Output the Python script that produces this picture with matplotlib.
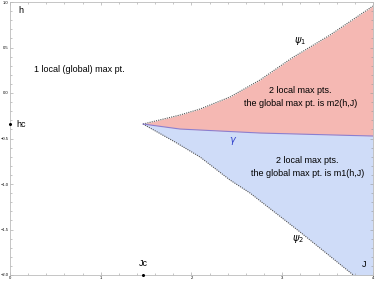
import matplotlib
matplotlib.use("Agg")
import matplotlib.pyplot as plt
from matplotlib.ticker import MultipleLocator
import numpy as np

plt.rcParams['font.family'] = ['Liberation Sans', 'DejaVu Sans']

# critical point
Jc, hc = 1.466, -0.341

# boundary curves (J, h)
psi1_J = [1.466, 1.873, 2.094, 2.424, 2.755, 3.107, 3.526, 4.0]
psi1_h = [-0.341, -0.242, -0.176, -0.044, 0.143, 0.385, 0.637, 0.956]

psi2_J = [1.466, 1.818, 2.094, 2.424, 2.645, 3.196, 3.769, 4.0]
psi2_h = [-0.341, -0.538, -0.703, -0.956, -1.099, -1.527, -1.989, -2.16]

gamma_J = [1.466, 1.873, 2.755, 4.0]
gamma_h = [-0.341, -0.396, -0.440, -0.473]

pink = '#f5b8b3'
blue = '#cfdcf8'

fig = plt.figure(figsize=(3.75, 2.82), dpi=100)
ax = fig.add_axes([10/375, 1 - 275/282, 363/375, 273/282])

J = np.linspace(Jc, 4.0, 200)
g = np.interp(J, gamma_J, gamma_h)
p1 = np.interp(J, psi1_J, psi1_h)
p2 = np.interp(J, psi2_J, psi2_h)
ax.fill_between(J, g, p1, color=pink, lw=0)
ax.fill_between(J, p2, g, color=blue, lw=0)

ax.plot(psi1_J, psi1_h, ls=(0, (1, 1)), color='#555555', lw=0.8)
ax.plot(psi2_J, psi2_h, ls=(0, (1, 1)), color='#555555', lw=0.8)
ax.plot(gamma_J, gamma_h, color='#8a7fd0', lw=0.8)

ax.set_xlim(0, 4)
ax.set_ylim(-2, 1)

# critical point markers on axes
ax.plot([0], [hc], 'o', ms=1.2, color='k', clip_on=False, zorder=5)
ax.plot([Jc], [-2], 'o', ms=1.2, color='k', clip_on=False, zorder=5)

fs = 6.5
ax.text(0.09, 0.88, 'h', fontsize=fs)
ax.text(0.07, hc, 'hc', fontsize=fs, va='center')
ax.text(Jc, -1.92, 'Jc', fontsize=fs, ha='center', va='bottom')
ax.text(3.9, -1.93, 'J', fontsize=fs, ha='center', va='bottom')
ax.text(0.76, 0.26, '1 local (global) max pt.', fontsize=fs, ha='center', va='center')
ax.text(3.2, -0.04, '2 local max pts.\nthe global max pt. is m2(h,J)', fontsize=fs,
        ha='center', va='center', linespacing=1.6)
ax.text(3.28, -0.81, '2 local max pts.\nthe global max pt. is m1(h,J)', fontsize=fs,
        ha='center', va='center', linespacing=1.6)
ax.text(3.2, 0.57, r'$\psi_1$', fontsize=7, ha='center', va='center')
ax.text(3.17, -1.6, r'$\psi_2$', fontsize=7, ha='center', va='center')
ax.text(2.46, -0.53, r'$\gamma$', fontsize=7, ha='center', va='center', color='#3344cc')

for s in ax.spines.values():
    s.set_color('#bbbbbb')
    s.set_linewidth(0.6)
ax.xaxis.set_major_locator(MultipleLocator(1))
ax.xaxis.set_minor_locator(MultipleLocator(0.2))
ax.yaxis.set_major_locator(MultipleLocator(0.5))
ax.yaxis.set_minor_locator(MultipleLocator(0.1))
ax.tick_params(which='both', direction='in', top=True, right=True,
               color='#999999', width=0.4, labelsize=3, pad=1)
ax.tick_params(which='major', length=2.5)
ax.tick_params(which='minor', length=1.3)

fig.savefig('out.png', dpi=100)
